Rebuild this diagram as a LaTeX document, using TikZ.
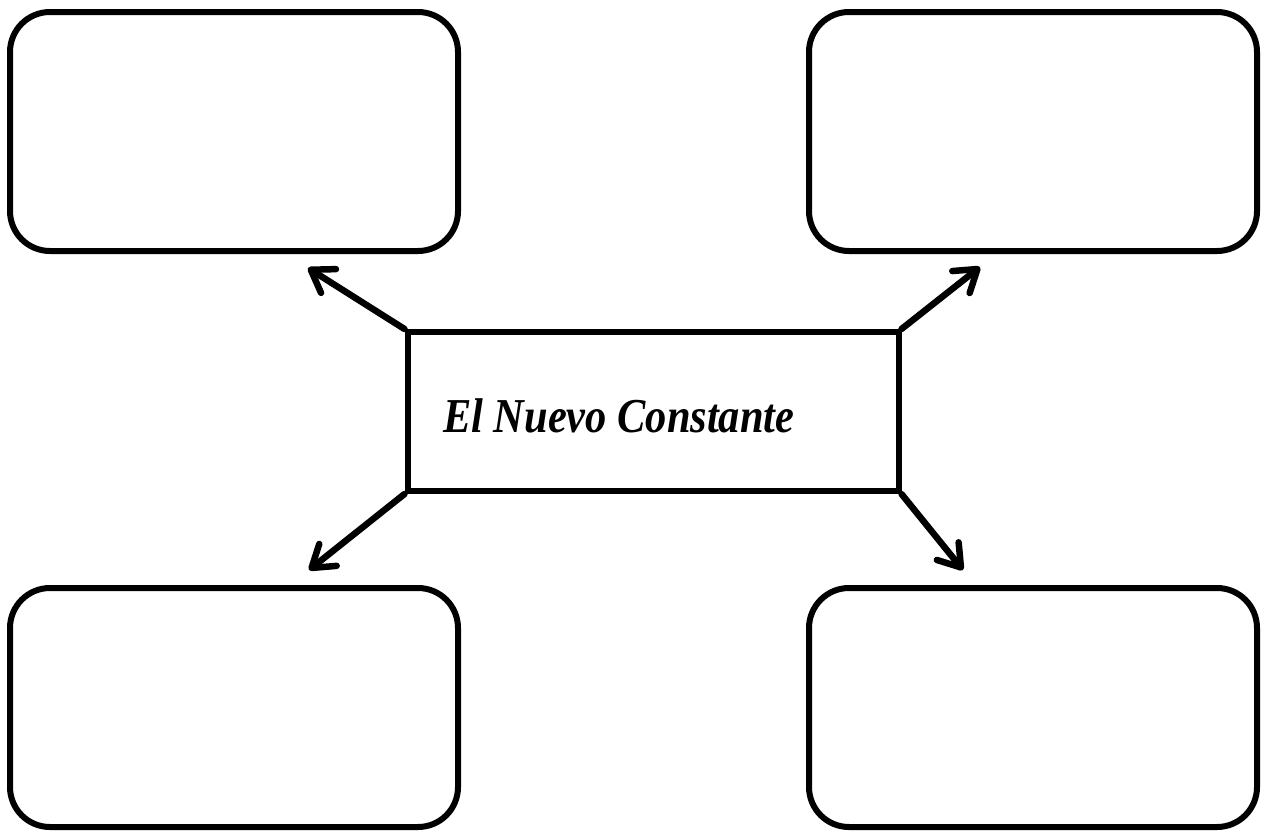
\documentclass[tikz,border=0pt]{standalone}
\usepackage{fontspec}
\setmainfont{Liberation Serif}
\usetikzlibrary{arrows.meta}
\begin{document}
\begin{tikzpicture}[x=1pt,y=-1pt,
  roundbox/.style={draw=black, line width=6pt, rounded corners=40pt, minimum width=448pt, minimum height=239pt, inner sep=0pt},
  hub/.style={draw=black, line width=6pt, minimum width=491pt, minimum height=159pt, inner sep=0pt},
  link/.style={line width=6.5pt, line cap=round, -{Straight Barb[length=21pt, width=28pt, round]}}
]
\useasboundingbox (0,0) rectangle (1263,830);
% four empty rounded boxes
\node[roundbox] (tl) at (234,131.5) {};
\node[roundbox] (tr) at (1033,131.5) {};
\node[roundbox] (bl) at (234,707.5) {};
\node[roundbox] (br) at (1033,707.5) {};
% central box and its title
\node[hub] (hub) at (653,411.5) {};
\node[anchor=base west, inner sep=0pt, font=\fontsize{42}{48}\selectfont\bfseries\itshape] (title) at (443,432) {\scalebox{1.01}[1.16]{El Nuevo Constante}};
% free ends of the arrows
\coordinate (ptl) at (308,268);
\coordinate (ptr) at (980,267);
\coordinate (pbl) at (309,570);
\coordinate (pbr) at (963,570);
\draw[link] (hub.north west) -- (ptl);
\draw[link] (hub.north east) -- (ptr);
\draw[link] (hub.south west) -- (pbl);
\draw[link] (hub.south east) -- (pbr);
\end{tikzpicture}
\end{document}
